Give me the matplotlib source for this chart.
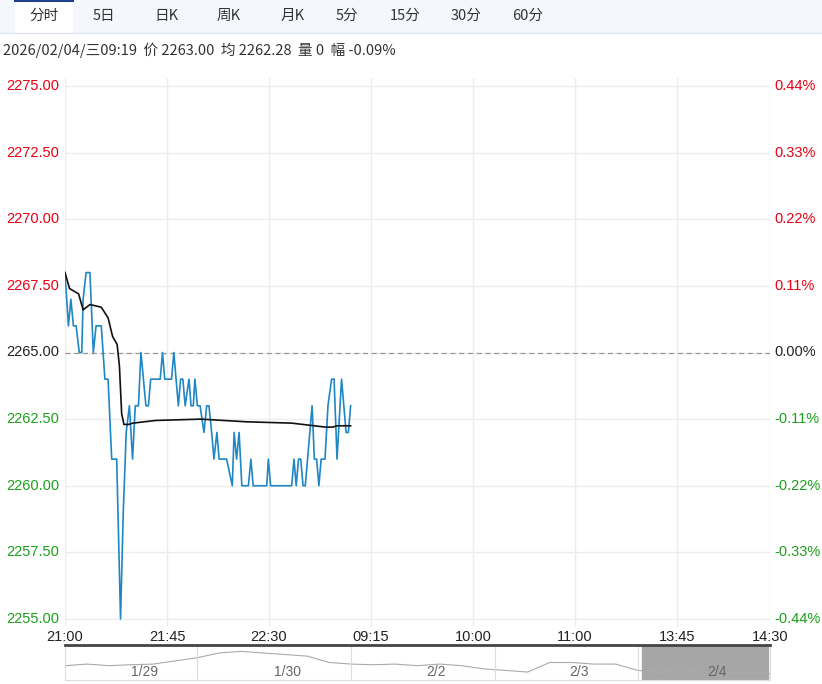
import matplotlib
matplotlib.use("Agg")
import matplotlib.pyplot as plt
from matplotlib.patches import Rectangle

plt.rcParams["font.family"] = ["Noto Sans CJK SC", "DejaVu Sans"]

# ── Datos ─────────────────────────────────────────────
PRE_CIERRE = 2265.0
TABS = ["分时", "5日", "日K", "周K", "月K", "5分", "15分", "30分", "60分"]
INFO = "2026/02/04/三09:19  价 2263.00  均 2262.28  量 0  幅 -0.09%"

min_precio = [0, 1.5, 2.6, 3.7, 4.9, 6.3, 7.4, 8, 9.3, 11, 12.5, 13.7, 16, 17.6, 19,
              20.6, 22.8, 24.5, 25.7, 27, 28.4, 29.8, 31, 32.4, 33.5, 35.7, 36.8, 37.8,
              42, 43, 44, 47, 48, 50, 51, 52, 53, 54.7, 55.6, 56.6, 57.3, 58.4, 59.6,
              61.3, 62.5, 63.5, 64.7, 65.7, 67, 68, 71.3, 73.8, 74.6, 75.7, 76.8, 78,
              80.9, 82, 83, 89, 89.7, 90.7, 100, 101, 102, 103, 104, 105, 106, 107, 109,
              110, 111, 112, 113, 114.7, 116, 117.6, 118.7, 120, 122, 124, 125, 126]
precio = [2268, 2266, 2267, 2266, 2266, 2265, 2265, 2267, 2268, 2268, 2265, 2266, 2266,
          2264, 2264, 2261, 2261, 2255, 2259, 2262, 2263, 2261, 2263, 2263, 2265, 2263,
          2263, 2264, 2264, 2265, 2264, 2264, 2265, 2263, 2264, 2264, 2263, 2264, 2263,
          2263, 2264, 2263, 2263, 2262, 2263, 2263, 2262, 2261, 2262, 2261, 2261, 2260,
          2262, 2261, 2262, 2260, 2260, 2261, 2260, 2260, 2261, 2260, 2260, 2261, 2260,
          2261, 2261, 2260, 2260, 2261, 2263, 2261, 2261, 2260, 2261, 2261, 2263, 2264,
          2264, 2261, 2264, 2262, 2262, 2263]

min_media = [0, 2, 6, 8, 11, 16, 19, 21, 23, 24, 25, 26, 28, 30, 40, 60, 80, 100, 115, 118, 120, 126]
media = [2268, 2267.4, 2267.2, 2266.6, 2266.8, 2266.7, 2266.3, 2265.6, 2265.3, 2264.5,
         2262.7, 2262.3, 2262.3, 2262.35, 2262.45, 2262.5, 2262.4, 2262.35, 2262.2,
         2262.2, 2262.25, 2262.25]

ticks_x = [0, 45, 90, 135, 180, 225, 270, 311]
etiquetas_x = ["21:00", "21:45", "22:30", "09:15", "10:00", "11:00", "13:45", "14:30"]
ticks_y = [2255.0, 2257.5, 2260.0, 2262.5, 2265.0, 2267.5, 2270.0, 2272.5, 2275.0]

nav_dias = ["1/29", "1/30", "2/2", "2/3", "2/4"]
nav_valores = [0.45, 0.5, 0.45, 0.48, 0.5, 0.6, 0.7, 0.85, 0.9, 0.85, 0.8, 0.75, 0.55, 0.5,
               0.48, 0.5, 0.45, 0.5, 0.45, 0.35, 0.3, 0.25, 0.55, 0.55, 0.5, 0.5, 0.3, 0.25,
               0.3, 0.25, 0.2, 0.25, 0.2]

ROJO = "#e60012"
VERDE = "#1aa01a"
AZUL = "#1f87c4"

fig = plt.figure(figsize=(8.22, 6.84), dpi=100)
W, H = 822, 684

# ── Pestañas superiores ───────────────────────────────
fig.add_artist(Rectangle((0, 1 - 33 / H), 1, 33 / H, transform=fig.transFigure,
                         facecolor="#f4f7fc", edgecolor="none"))
fig.add_artist(Rectangle((15 / W, 1 - 33 / H), 58 / W, 33 / H, transform=fig.transFigure,
                         facecolor="white", edgecolor="none"))
fig.add_artist(plt.Line2D([15 / W, 73 / W], [1 - 1 / H, 1 - 1 / H], transform=fig.transFigure,
                          color="#1f3f8f", lw=1.5))
fig.add_artist(plt.Line2D([0, 1], [1 - 33 / H, 1 - 33 / H], transform=fig.transFigure,
                          color="#dfe5ee", lw=1))
tab_x = [44, 104, 166, 229, 293, 347, 405, 466, 528]
for x, t in zip(tab_x, TABS):
    fig.text(x / W, 1 - 16 / H, t, ha="center", va="center", fontsize=10.5, color="#333333")
fig.text(3 / W, 1 - 50 / H, INFO, ha="left", va="center", fontsize=10.5, color="#333333")

# ── Gráfico principal ─────────────────────────────────
ax = fig.add_axes([65 / W, 1 - 627 / H, 705 / W, 549 / H])
ax.set_xlim(0, 311)
ax.set_ylim(2254.7, 2275.3)
for s in ax.spines.values():
    s.set_visible(False)
ax.set_xticks(ticks_x)
ax.set_yticks(ticks_y)
ax.grid(True, color="#ececec", lw=1)
ax.tick_params(length=0)
ax.set_xticklabels(etiquetas_x, fontsize=10.5, color="#222222", family="Liberation Sans")
ax.xaxis.set_tick_params(pad=2)
ax.set_yticklabels([])
for v in ticks_y:
    c = ROJO if v > PRE_CIERRE else (VERDE if v < PRE_CIERRE else "#222222")
    ax.text(-0.0085, v, f"{v:.2f}", transform=ax.get_yaxis_transform(), ha="right",
            va="center", fontsize=10.5, color=c, family="Liberation Sans")
    pct = (v - PRE_CIERRE) / PRE_CIERRE * 100
    ax.text(1.006, v, f"{pct:.2f}%", transform=ax.get_yaxis_transform(), ha="left",
            va="center", fontsize=10.5, color=c, family="Liberation Sans")
ax.axhline(PRE_CIERRE, color="#999999", lw=0.9, ls=(0, (4, 3)))
ax.plot(min_precio, precio, color=AZUL, lw=1.2)
ax.plot(min_media, media, color="#111111", lw=1.2)

# ── Navegador inferior ────────────────────────────────
nav = fig.add_axes([65 / W, 1 - 680 / H, 705 / W, 35 / H])
nav.set_xlim(0, len(nav_valores) - 1)
nav.set_ylim(0, 1.1)
nav.set_xticks([])
nav.set_yticks([])
for s in nav.spines.values():
    s.set_color("#dddddd")
nav.spines["top"].set_color("#444444")
nav.spines["top"].set_linewidth(2)
nav.plot(range(len(nav_valores)), nav_valores, color="#aaaaaa", lw=0.8)
sep = [0, 6.0, 13.0, 19.5, 26.0, 32]
for s in sep[1:-1]:
    nav.axvline(s, color="#dddddd", lw=0.8)
nav.axvspan(26.2, 31.9, color="#a6a6a6", zorder=0)
for i, d in enumerate(nav_dias):
    nav.text((sep[i] + sep[i + 1]) / 2 + 0.6, 0.25, d, ha="center", va="center",
             fontsize=10, color="#666666", family="Liberation Sans")

fig.savefig("out.png", dpi=100, facecolor="white")
